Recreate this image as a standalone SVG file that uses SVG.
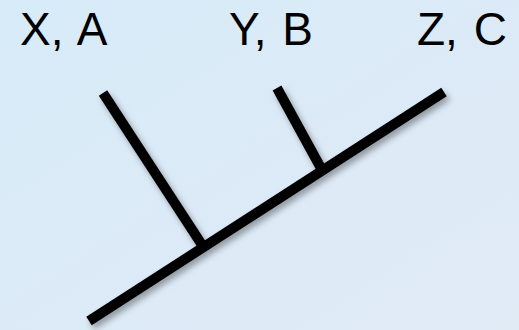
<svg xmlns="http://www.w3.org/2000/svg" width="519" height="330" viewBox="0 0 519 330">
  <defs>
    <linearGradient id="bg" x1="0" y1="0" x2="1" y2="1">
      <stop offset="0" stop-color="#d7ebf8"/>
      <stop offset="0.5" stop-color="#dceaf7"/>
      <stop offset="1" stop-color="#e1ebf6"/>
    </linearGradient>
    <filter id="shadow" x="-20%" y="-20%" width="140%" height="140%">
      <feDropShadow dx="3" dy="4" stdDeviation="3" flood-color="#000" flood-opacity="0.35"/>
    </filter>
  </defs>
  <style>
    .lbl { font-family: "Liberation Sans", Arial, sans-serif; font-size: 46px; word-spacing: 3px; fill: #000; }
    .edge { stroke: #000; stroke-width: 10; stroke-linecap: butt; fill: none; }
  </style>
  <rect x="0" y="0" width="519" height="330" fill="url(#bg)"/>
  <g id="connectors" filter="url(#shadow)">
    <line class="edge" x1="89" y1="321" x2="444" y2="92"/>
    <line class="edge" x1="103" y1="93" x2="204" y2="248"/>
    <line class="edge" x1="277" y1="88" x2="322" y2="170"/>
  </g>
  <g id="node-xa"><text class="lbl" x="20" y="45">X, A</text></g>
  <g id="node-yb"><text class="lbl" x="229" y="45">Y, B</text></g>
  <g id="node-zc"><text class="lbl" x="417" y="45">Z, C</text></g>
</svg>
